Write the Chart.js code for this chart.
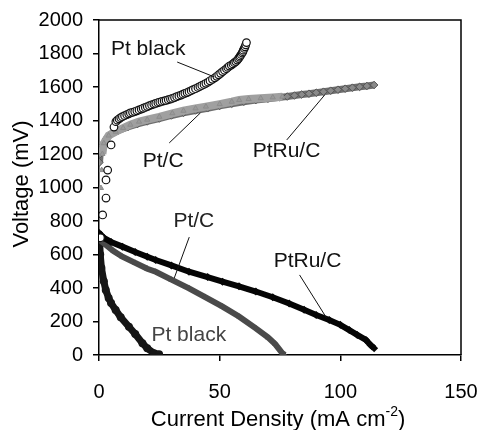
<!DOCTYPE html>
<html>
<head>
<meta charset="utf-8">
<script src="https://cdn.jsdelivr.net/npm/chart.js@4/dist/chart.umd.min.js"></script>
<style>
  html, body { margin: 0; padding: 0; background: #fff; }
  canvas { display: block; }
</style>
</head>
<body>
<canvas id="myChart" width="479" height="430"></canvas>
<script>
// axis ticks
const xTicks = [0, 50, 100, 150];
const yTicks = [0, 200, 400, 600, 800, 1000, 1200, 1400, 1600, 1800, 2000];

// upper curves
const ptBlackUpX = [0.6, 1.5, 2.9, 2.9, 3.6, 5.0, 6.2, 7.0, 7.6, 8.3, 9.0, 9.7, 10.6, 11.5, 12.3, 13.0, 13.9, 14.8, 15.7, 16.6, 17.5, 18.3, 19.2, 20.0, 20.9, 21.8, 22.7, 23.5, 24.4, 25.2, 26.1, 27.0, 27.8, 28.7, 29.6, 30.4, 31.3, 32.2, 33.1, 34.0, 34.8, 35.6, 36.5, 37.3, 38.2, 39.0, 40.0, 41.0, 41.8, 42.6, 43.5, 44.3, 45.2, 46.0, 47.0, 48.0, 48.8, 49.6, 50.4, 51.2, 52.0, 52.8, 53.4, 54.0, 54.8, 55.5, 56.1, 56.7, 57.3, 57.8, 58.2, 58.5, 58.9, 59.3, 59.6, 59.8, 60.2, 60.5, 60.8, 61.1];
const ptBlackUpY = [700, 836, 937, 1045, 1104, 1254, 1361, 1393, 1402, 1410, 1417, 1423, 1429, 1435, 1440, 1445, 1449, 1453, 1458, 1463, 1468, 1473, 1478, 1483, 1488, 1493, 1498, 1502, 1506, 1510, 1514, 1517, 1520, 1524, 1528, 1532, 1537, 1542, 1547, 1552, 1557, 1562, 1567, 1572, 1578, 1584, 1590, 1597, 1603, 1609, 1615, 1622, 1629, 1637, 1646, 1655, 1664, 1673, 1682, 1692, 1700, 1709, 1717, 1725, 1731, 1738, 1745, 1752, 1761, 1770, 1778, 1785, 1794, 1803, 1811, 1820, 1830, 1840, 1852, 1865];

const ptcUpX = [0.3, 0.5, 0.8, 1.1, 1.4, 2.0, 4.0, 6.9, 10, 13, 16.6, 20, 25, 30.4, 35, 40, 44.3, 50, 55, 58.1, 62, 67, 72, 76];
const ptcUpY = [700, 836, 997, 1104, 1200, 1264, 1310, 1333, 1355, 1375, 1393, 1405, 1422, 1443, 1458, 1472, 1483, 1498, 1512, 1522, 1528, 1533, 1538, 1542];

const ptruUpX = [0.2, 0.5, 1.5, 3, 5, 8, 12, 16, 20, 25, 30, 35, 40, 45, 50, 55, 60, 65, 70, 75, 78, 81, 84, 87, 90, 93, 96, 99, 102, 105, 108, 111, 114];
const ptruUpY = [1150, 1200, 1250, 1290, 1320, 1340, 1362, 1380, 1395, 1412, 1430, 1446, 1460, 1473, 1487, 1500, 1512, 1522, 1530, 1538, 1543, 1549, 1555, 1560, 1566, 1572, 1578, 1584, 1590, 1596, 1601, 1606, 1612];

// lower curves
const ptBlackLowX = [0.2, 0.5, 1, 2, 2.8, 4, 5, 6.9, 9, 12.4, 15, 18, 20, 22.8, 24.9];
const ptBlackLowY = [700, 600, 520, 440, 388, 340, 310, 269, 225, 169, 125, 70, 40, 10, 4];

const ptcLowX = [0, 3, 6, 9.7, 15, 20, 23.5, 30, 37.3, 44, 51.2, 58, 65, 70, 73, 76, 77];
const ptcLowY = [690, 655, 620, 587, 550, 515, 497, 450, 398, 345, 289, 230, 159, 105, 65, 10, 0];

const ptruLowX = [0, 2, 5, 9.7, 15, 20, 23.5, 30, 37.3, 45, 51.2, 58, 65, 72, 78.8, 85, 90, 95.4, 100, 103.7, 107, 110.6, 112.5, 114];
const ptruLowY = [730, 700, 675, 647, 615, 587, 567, 535, 497, 465, 438, 410, 379, 345, 308, 270, 239, 209, 180, 149, 120, 90, 60, 40];

// curve labels: text, x, y, leader from/to (data units)
const labelText = ["Pt black", "Pt/C", "PtRu/C", "Pt/C", "PtRu/C", "Pt black"];
const labelX = [20.4, 26.6, 77.7, 39.3, 86.4, 37.2];
const labelY = [1827, 1158, 1218, 800, 558, 116];
const leaderFrom = [[32.4, 1749], [29.1, 1266], [77.8, 1284], [37.4, 704], [83.1, 478], null];
const leaderTo = [[47.8, 1660], [42.0, 1445], [93.5, 1552], [31.2, 460], [94.3, 221], null];
const labelColor = ["#111", "#111", "#111", "#222", "#111", "#444"];

const FONT = "'Liberation Sans', Arial, Helvetica, sans-serif";

function pts(xs, ys) {
    return xs.map(function (x, i) { return { x: x, y: ys[i] }; });
}

// hide line through the scattered start-up points
function hideBelow(limit) {
    return function (ctx) {
        if (ctx.p0.parsed.y < limit || ctx.p1.parsed.y < limit) return "rgba(0,0,0,0)";
        return undefined;
    };
}

const overlay = {
    id: "overlay",
    afterDatasetsDraw: function (chart) {
        const c = chart.ctx;
        const xs = chart.scales.x, ys = chart.scales.y;
        const a = chart.chartArea;

        // top / right frame
        c.save();
        c.strokeStyle = "#000";
        c.lineWidth = 1.5;
        c.beginPath();
        c.moveTo(a.left, a.top);
        c.lineTo(a.right, a.top);
        c.lineTo(a.right, a.bottom);
        c.stroke();

        // curve labels
        c.font = "21px " + FONT;
        c.textAlign = "center";
        c.textBaseline = "middle";
        for (let i = 0; i < labelText.length; i++) {
            c.fillStyle = labelColor[i];
            c.fillText(labelText[i], xs.getPixelForValue(labelX[i]), ys.getPixelForValue(labelY[i]));
            if (leaderFrom[i]) {
                c.strokeStyle = "#111";
                c.lineWidth = 1;
                c.beginPath();
                c.moveTo(xs.getPixelForValue(leaderFrom[i][0]), ys.getPixelForValue(leaderFrom[i][1]));
                c.lineTo(xs.getPixelForValue(leaderTo[i][0]), ys.getPixelForValue(leaderTo[i][1]));
                c.stroke();
            }
        }

        // x title with superscript
        c.fillStyle = "#000";
        c.textBaseline = "alphabetic";
        c.textAlign = "left";
        const big = "22px " + FONT, small = "14px " + FONT;
        c.font = big;
        const t1 = "Current Density (mA cm", t3 = ")";
        const w1 = c.measureText(t1).width, w3 = c.measureText(t3).width;
        c.font = small;
        const w2 = c.measureText("-2").width;
        let x0 = 278 - (w1 + w2 + w3) / 2;
        const base = 426;
        c.font = big;
        c.fillText(t1, x0, base);
        c.font = small;
        c.fillText("-2", x0 + w1, base - 10);
        c.font = big;
        c.fillText(t3, x0 + w1 + w2, base);

        // y title
        c.translate(22, 184);
        c.rotate(-Math.PI / 2);
        c.textAlign = "center";
        c.textBaseline = "middle";
        c.font = big;
        c.fillText("Voltage (mV)", 0, 0);
        c.restore();
    }
};

const chart = new Chart(document.getElementById("myChart"), {
    type: "scatter",
    data: {
        datasets: [
            {
                label: "Pt black (upper)",
                data: pts(ptBlackUpX, ptBlackUpY),
                showLine: false,
                pointStyle: "circle",
                pointRadius: 3.8,
                pointBorderWidth: 1.2,
                pointBorderColor: "#111",
                pointBackgroundColor: "#fff",
                order: 1
            },
            {
                label: "Pt/C (upper)",
                data: pts(ptcUpX, ptcUpY),
                showLine: true,
                borderColor: "#a0a0a0",
                borderWidth: 8,
                segment: { borderColor: hideBelow(1150) },
                pointStyle: "triangle",
                pointRadius: 3,
                pointBorderWidth: 1,
                pointBorderColor: "#8c8c8c",
                pointBackgroundColor: "#9a9a9a",
                order: 2
            },
            {
                label: "PtRu/C (upper)",
                data: pts(ptruUpX, ptruUpY),
                showLine: true,
                borderColor: "#6e6e6e",
                borderWidth: 7,
                pointStyle: "rectRot",
                pointRadius: 3.8,
                pointBorderWidth: 1,
                pointBorderColor: "#555",
                pointBackgroundColor: "#8a8a8a",
                order: 3
            },
            {
                label: "Pt black (lower)",
                data: pts(ptBlackLowX, ptBlackLowY),
                showLine: true,
                borderColor: "#161616",
                borderWidth: 7,
                pointStyle: "circle",
                pointRadius: 4,
                pointBorderWidth: 0,
                pointBackgroundColor: "#161616",
                order: 6
            },
            {
                label: "Pt/C (lower)",
                data: pts(ptcLowX, ptcLowY),
                showLine: true,
                borderColor: "#4a4a4a",
                borderWidth: 6,
                pointStyle: "triangle",
                pointRadius: 3.5,
                pointBorderWidth: 0,
                pointBackgroundColor: "#4a4a4a",
                order: 5
            },
            {
                label: "PtRu/C (lower)",
                data: pts(ptruLowX, ptruLowY),
                showLine: true,
                borderColor: "#050505",
                borderWidth: 6,
                pointStyle: "rectRot",
                pointRadius: 4,
                pointBorderWidth: 0,
                pointBackgroundColor: "#050505",
                order: 4
            }
        ]
    },
    options: {
        responsive: false,
        animation: false,
        devicePixelRatio: 1,
        layout: { padding: { top: 20, right: 18, left: 0, bottom: 0 } },
        plugins: {
            legend: { display: false },
            tooltip: { enabled: false }
        },
        scales: {
            x: {
                type: "linear",
                min: 0,
                max: 150,
                afterBuildTicks: function (s) { s.ticks = xTicks.map(function (v) { return { value: v }; }); },
                afterFit: function (s) {
                    s.height = 75;
                    s.paddingLeft = 0;
                    s.paddingRight = 0;
                },
                ticks: { color: "#000", font: { size: 20, family: FONT }, padding: 19, maxRotation: 0,
                         callback: function (v) { return String(v); } },
                grid: { drawOnChartArea: false, color: "#000", tickLength: 6, lineWidth: 1.5 },
                border: { color: "#000", width: 1.5 }
            },
            y: {
                type: "linear",
                min: 0,
                max: 2000,
                afterBuildTicks: function (s) { s.ticks = yTicks.map(function (v) { return { value: v }; }); },
                afterFit: function (s) {
                    s.width = 99;
                    s.paddingTop = 0;
                    s.paddingBottom = 0;
                },
                ticks: { color: "#000", font: { size: 20, family: FONT }, padding: 10,
                         callback: function (v) { return String(v); } },
                grid: { drawOnChartArea: false, color: "#000", tickLength: 6, lineWidth: 1.5 },
                border: { color: "#000", width: 1.5 }
            }
        }
    },
    plugins: [overlay]
});
</script>
</body>
</html>
